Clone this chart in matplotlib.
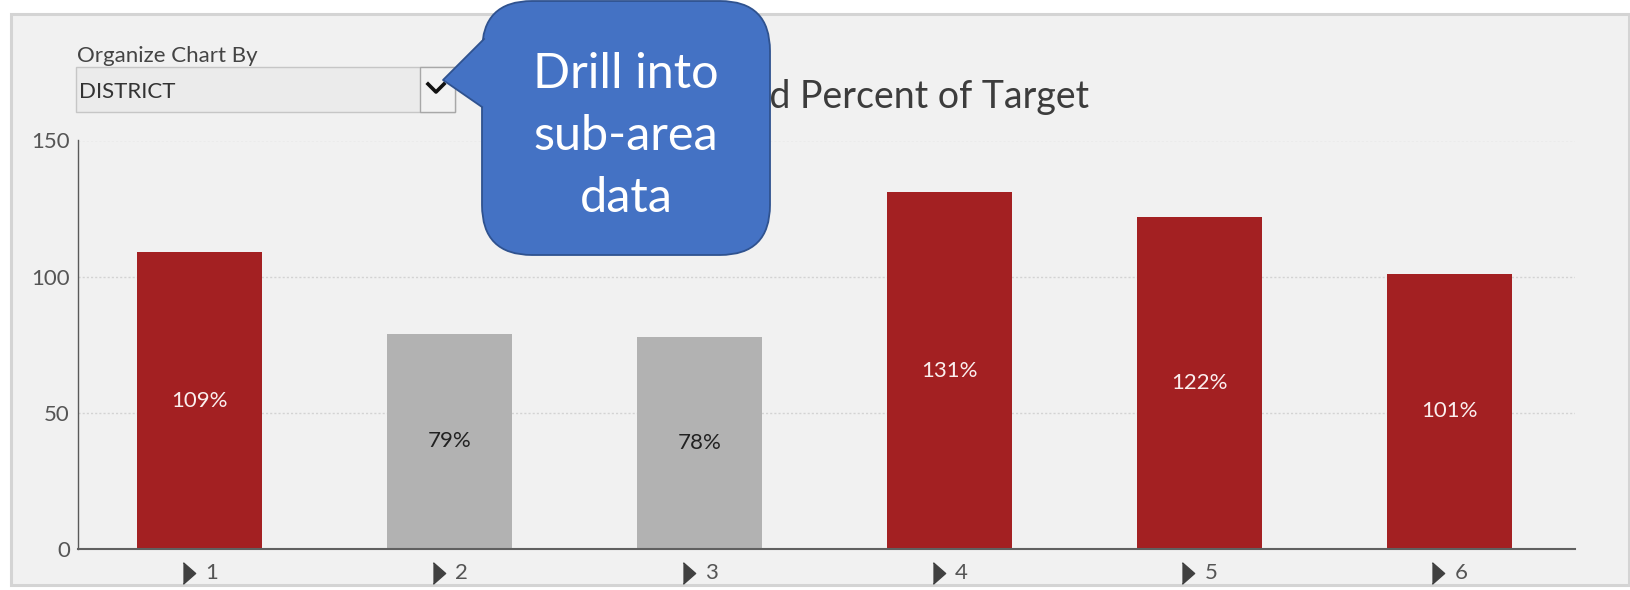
import numpy as np
import matplotlib
matplotlib.use("Agg")
import matplotlib.pyplot as plt
from matplotlib.patches import Rectangle, FancyBboxPatch, Polygon
from matplotlib.transforms import ScaledTranslation

# data
districts = ["1", "2", "3", "4", "5", "6"]
pct_of_target = [109, 79, 78, 131, 122, 101]
y_ticks = [0, 50, 100, 150]

selector_label = "Organize Chart By"
selector_value = "DISTRICT"
chart_title = "Sales and Percent of Target"
callout_text = "Drill into\nsub-area\ndata"

W, H = 1631, 590
RED = "#a32022"
GREY = "#b2b2b2"
BLUE = "#4472c4"
BLUE_EDGE = "#2f528f"

plt.rcParams['font.family'] = ['Lato', 'DejaVu Sans']

fig = plt.figure(figsize=(W / 100, H / 100), dpi=100, facecolor='white')


def pixel_axes(z):
    # full-figure overlay measured in pixels, origin top-left
    a = fig.add_axes([0, 0, 1, 1], zorder=z)
    a.set_xlim(0, W)
    a.set_ylim(H, 0)
    a.axis('off')
    a.patch.set_alpha(0)
    return a


# panel background
bg = pixel_axes(0)
bg.add_patch(Rectangle((11, 14), 1618, 571, facecolor='#f1f1f1',
                       edgecolor='#d4d4d4', lw=2.2))

# bar chart
ax = fig.add_axes([78 / W, 41 / H, (1575 - 78) / W, (549 - 140.5) / H], zorder=1)
ax.patch.set_alpha(0)
x = np.arange(len(districts))
colors = [RED if v >= 100 else GREY for v in pct_of_target]
ax.bar(x, pct_of_target, width=0.5, color=colors, zorder=2)
for xi, v, c in zip(x, pct_of_target, colors):
    ax.text(xi, v / 2, f"{v}%", ha='center', va='center', fontsize=16,
            color='#fbeeee' if c == RED else '#222222', zorder=3)

ax.set_xlim(-0.488, 5.503)
ax.set_ylim(0, 150)
ax.set_yticks(y_ticks)
ax.set_xticks(x)
ax.set_xticklabels(districts)
ax.yaxis.grid(True, linestyle=(0, (1.5, 1.5)), color='#d3d3d3', lw=1)
ax.set_axisbelow(True)
for s in ('top', 'right'):
    ax.spines[s].set_visible(False)
ax.spines['left'].set_color('#5a5a5a')
ax.spines['left'].set_linewidth(1)
ax.spines['bottom'].set_color('#606060')
ax.spines['bottom'].set_linewidth(1.5)
ax.tick_params(axis='both', length=0, labelsize=16, labelcolor='#555555')
ax.tick_params(axis='y', pad=5.8)
ax.tick_params(axis='x', pad=10)

shift = ScaledTranslation(12 / 100, 0, fig.dpi_scale_trans)
for lbl in ax.get_xticklabels():
    lbl.set_transform(lbl.get_transform() + shift)

# expand arrows in front of each category label
arrow = [(-0.57, -1), (0.57, 0), (-0.57, 1)]
ax.plot(x, [-24 / 408.5] * len(x), marker=arrow, ms=15.5, ls='none',
        color='#404040', clip_on=False,
        transform=ax.get_xaxis_transform()
        + ScaledTranslation(-11 / 100, 0, fig.dpi_scale_trans))

# selector, title and callout
top = pixel_axes(2)
top.text(77, 62, selector_label, fontsize=16, color='#444444', va='baseline')
top.add_patch(Rectangle((76, 67), 379, 45, facecolor='#ebebeb',
                        edgecolor='#c6c6c6', lw=1))
top.add_patch(Rectangle((420, 67), 35, 45, facecolor='#f2f2f2',
                        edgecolor='#a8a8a8', lw=1))
top.plot([428, 436, 444], [84, 92, 84], color='#111111', lw=2.6)
top.text(79, 98, selector_value, fontsize=16, color='#333333', va='baseline')

top.text(1089, 108, chart_title, fontsize=27, fontweight='normal',
         color='#3c3c3c', ha='right', va='baseline', zorder=1)

top.add_patch(FancyBboxPatch((482, 1), 288, 254,
                             boxstyle='round,pad=0,rounding_size=50',
                             facecolor=BLUE, edgecolor=BLUE_EDGE, lw=1.3, zorder=5))
top.add_patch(Polygon([(443, 80), (484, 39), (500, 39), (500, 107), (482, 107)],
                      closed=True, facecolor=BLUE, edgecolor='none', zorder=6))
top.plot([484, 443, 482], [39, 80, 107], color=BLUE_EDGE, lw=1.3, zorder=7)
top.text(626, 136, callout_text, fontsize=35, color='white', ha='center',
         va='center', linespacing=1.5, zorder=8)

fig.savefig("out.png", dpi=100, facecolor='white')
